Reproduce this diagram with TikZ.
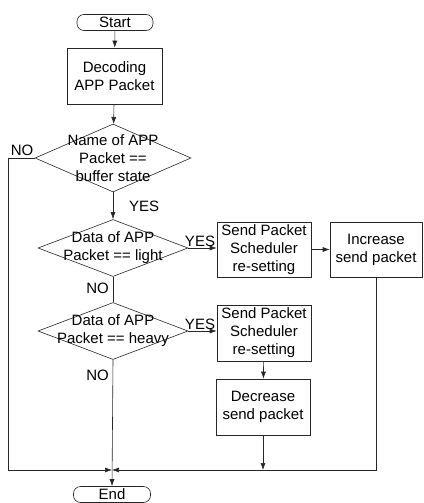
\documentclass[tikz,border=0pt]{standalone}
\usepackage{fontspec}
\setmainfont{Liberation Sans}
\usetikzlibrary{shapes.geometric,arrows.meta}
\begin{document}
\begin{tikzpicture}[x=1pt,y=-1pt,
  line/.style={draw=black!85, line width=0.6pt},
  flow/.style={line, -{Latex[length=7pt,width=5pt]}},
  txt/.style={font=\fontsize{15}{18}\selectfont, inner sep=0pt, align=center},
  box/.style={line, txt, rectangle},
  terminal/.style={line, txt, rectangle, rounded corners=7pt},
  decision/.style={line, diamond, inner sep=0pt},
  tag/.style={txt},
]
\useasboundingbox (0,0) rectangle (423,503);

% start / end terminals
\node[terminal, minimum width=76pt, minimum height=16pt] (start) at (115,22.5) {Start};
\node[terminal, minimum width=77pt, minimum height=16pt] (end) at (112,494.5) {End};

% processing boxes
\node[box, minimum width=95pt, minimum height=56pt] (decode) at (114.5,76) {Decoding\\APP Packet};
\node[box, minimum width=94pt, minimum height=55pt] (s1) at (264,249.5) {Send Packet\\Scheduler\\re-setting};
\node[box, minimum width=92pt, minimum height=55pt] (inc) at (376,249.5) {Increase\\send packet};
\node[box, minimum width=94pt, minimum height=56pt] (s2) at (264,333) {Send Packet\\Scheduler\\re-setting};
\node[box, minimum width=94pt, minimum height=56pt] (dec) at (263,407) {Decrease\\send packet};

% decisions
\node[decision, minimum width=156pt, minimum height=68pt,
      label={[tag]center:{Name of APP\\Packet ==\\buffer state}}] (d1) at (113,158) {};
\node[decision, minimum width=150pt, minimum height=57pt,
      label={[tag]center:{Data of APP\\Packet == light}}] (d2) at (113,248) {};
\node[decision, minimum width=150pt, minimum height=57pt,
      label={[tag]center:{Data of APP\\Packet == heavy}}] (d3) at (113,331) {};

% routing points
\coordinate (jn) at (112,470);
\coordinate (lt) at (8,158);
\coordinate (lb) at (8,470);
\coordinate (rb) at (inc.south |- jn);
\coordinate (db) at (dec.south |- jn);

% main flow
\draw[flow] (start) -- (decode);
\draw[flow] (decode) -- (d1);
\draw[flow] (d1.south) -- (d2.north);
\draw[line] (d2.south) -- (d3.north);
\draw[flow] (d3.south) -- (end.north);

% branches
\draw[flow] (d2.east) -- (d2.east -| s1.west);
\draw[flow] (s1.east) -- (inc.west);
\draw[flow] (d3.east) -- (d3.east -| s2.west);
\draw[flow] (s2) -- (dec);
\draw[flow] (dec.south) -- (db);

% returns to the junction above End
\draw[flow] (d1.west) -- (lt) -- (lb) -- (jn);
\draw[flow] (inc.south) -- (rb) -- (jn);

% branch labels
\node[tag] (ny) at (22,150) {NO};
\node[tag, anchor=west] (y1) at (129,206) {YES};
\node[tag, anchor=south] (y2) at (200,247) {YES};
\node[tag, anchor=east] (n2) at (109,288) {NO};
\node[tag, anchor=south] (y3) at (200,330) {YES};
\node[tag, anchor=east] (n3) at (109,375) {NO};
\end{tikzpicture}
\end{document}
